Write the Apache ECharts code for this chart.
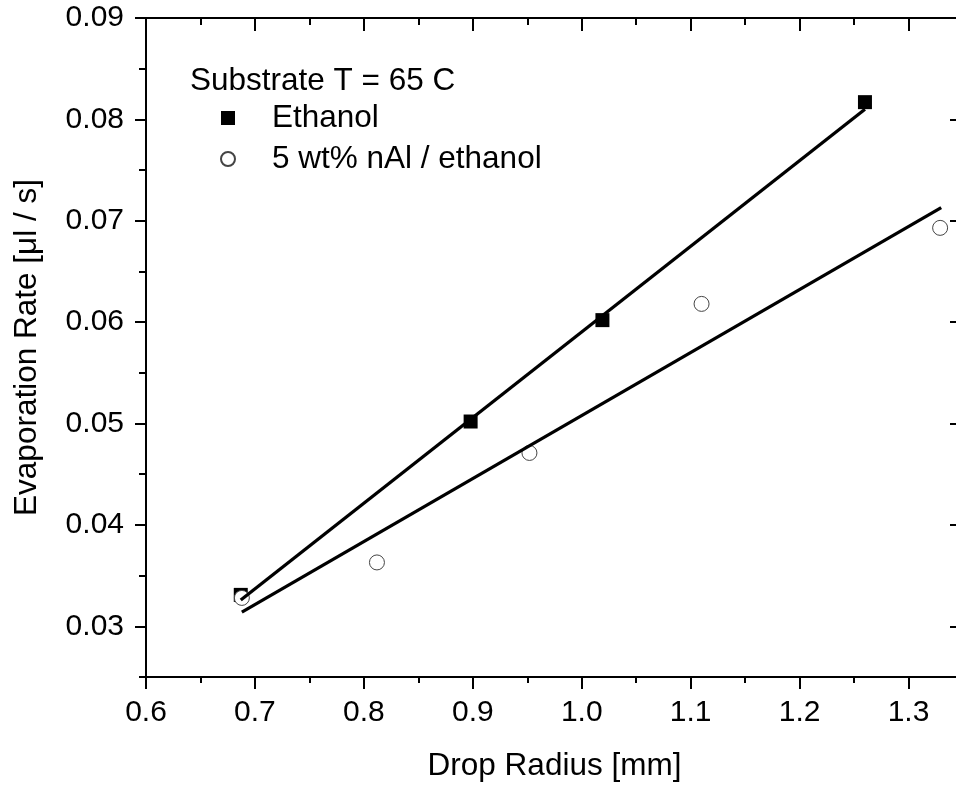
<!DOCTYPE html>
<html>
<head>
<meta charset="utf-8">
<script src="https://cdn.jsdelivr.net/npm/echarts@6/dist/echarts.min.js"></script>
<style>
html,body{margin:0;padding:0;background:#fff;}
#chart{width:956px;height:788px;}
</style>
</head>
<body>
<div id="chart"></div>
<script>
// ---- data ----
const ethanolX = [0.687, 0.898, 1.019, 1.260];
const ethanolY = [0.0331, 0.0502, 0.0602, 0.0817];
const nalX = [0.688, 0.812, 0.952, 1.110, 1.329];
const nalY = [0.0328, 0.0363, 0.0471, 0.0618, 0.0693];
const ethanolFitX = [0.687, 1.260];
const ethanolFitY = [0.0326, 0.0810];
const nalFitX = [0.688, 1.330];
const nalFitY = [0.0314, 0.0713];
const xMajor = [0.6, 0.7, 0.8, 0.9, 1.0, 1.1, 1.2, 1.3];
const xMinor = [0.65, 0.75, 0.85, 0.95, 1.05, 1.15, 1.25, 1.35];
const yMajor = [0.03, 0.04, 0.05, 0.06, 0.07, 0.08, 0.09];
const yMinor = [0.025, 0.035, 0.045, 0.055, 0.065, 0.075, 0.085];
const seriesNames = ['Ethanol', '5 wt% nAl / ethanol'];
const titleText = 'Substrate T = 65 C';
const xName = 'Drop Radius [mm]';
const yName = 'Evaporation Rate [\u03BCl / s]';

const FONT = 'Liberation Sans, Arial, sans-serif';
const zip = (a, b) => a.map((v, i) => [v, b[i]]);

function axisSet(kind, pos, ticks, len, inside, withLine, withLabel, name) {
  const isX = kind === 'x';
  const ax = {
    type: 'value',
    position: pos,
    min: isX ? 0.6 : 0.025,
    max: isX ? 1.35 : 0.09,
    splitLine: { show: false },
    axisLine: { show: withLine, onZero: false, lineStyle: { color: '#000', width: 2 } },
    axisTick: { show: true, inside: inside, length: len, customValues: ticks, lineStyle: { color: '#000', width: 2 } },
    axisLabel: { show: false }
  };
  if (withLabel) {
    ax.axisLabel = {
      show: true,
      customValues: ticks,
      color: '#000',
      fontSize: 30,
      fontFamily: FONT,
      margin: isX ? 21 : 22,
      formatter: v => isX ? v.toFixed(1) : v.toFixed(2)
    };
  }
  if (name) {
    ax.name = name;
    ax.nameLocation = 'middle';
    ax.nameGap = isX ? 73 : 103;
    ax.nameTextStyle = { color: '#000', fontSize: 31.5, fontFamily: FONT };
  }
  return ax;
}

const chart = echarts.init(document.getElementById('chart'), null, { renderer: 'canvas' });
chart.setOption({
  animation: false,
  backgroundColor: '#fff',
  grid: { left: 146, top: 18, width: 817, height: 659, containLabel: false, outerBoundsMode: 'none' },
  title: {
    text: titleText, left: 190, top: 65, padding: 0,
    textStyle: { fontSize: 31.5, fontWeight: 'normal', fontFamily: FONT, color: '#000' }
  },
  legend: {
    orient: 'vertical', left: 220, top: 102, padding: 0,
    itemWidth: 14, itemHeight: 14, itemGap: 9,
    data: seriesNames,
    textStyle: { fontSize: 31.5, fontFamily: FONT, color: '#000', lineHeight: 30, padding: [0, 0, 0, 32] }
  },
  xAxis: [
    axisSet('x', 'bottom', xMajor, 12, false, true, true, xName),
    axisSet('x', 'bottom', xMinor, 6, false, false, false),
    axisSet('x', 'top', xMajor, 13, true, true, false),
    axisSet('x', 'top', xMinor, 7, true, false, false)
  ],
  yAxis: [
    axisSet('y', 'left', yMajor, 11, false, true, true, yName),
    axisSet('y', 'left', yMinor, 7, false, false, false),
    axisSet('y', 'right', yMajor, 13, true, true, false),
    axisSet('y', 'right', yMinor, 7, true, false, false)
  ],
  series: [
    {
      name: 'Ethanol fit', type: 'line', data: zip(ethanolFitX, ethanolFitY),
      symbol: 'none', lineStyle: { color: '#000', width: 3.3 }, z: 3
    },
    {
      name: 'nAl fit', type: 'line', data: zip(nalFitX, nalFitY),
      symbol: 'none', lineStyle: { color: '#000', width: 3.3 }, z: 3
    },
    {
      name: seriesNames[0], type: 'scatter', data: zip(ethanolX, ethanolY),
      symbol: 'rect', symbolSize: 14, itemStyle: { color: '#000', opacity: 1 }, z: 2
    },
    {
      name: seriesNames[1], type: 'scatter', data: zip(nalX, nalY),
      symbol: 'circle', symbolSize: 15,
      itemStyle: { color: '#fff', borderColor: '#444', borderWidth: 1, opacity: 1 }, z: 2
    }
  ]
});
</script>
</body>
</html>
